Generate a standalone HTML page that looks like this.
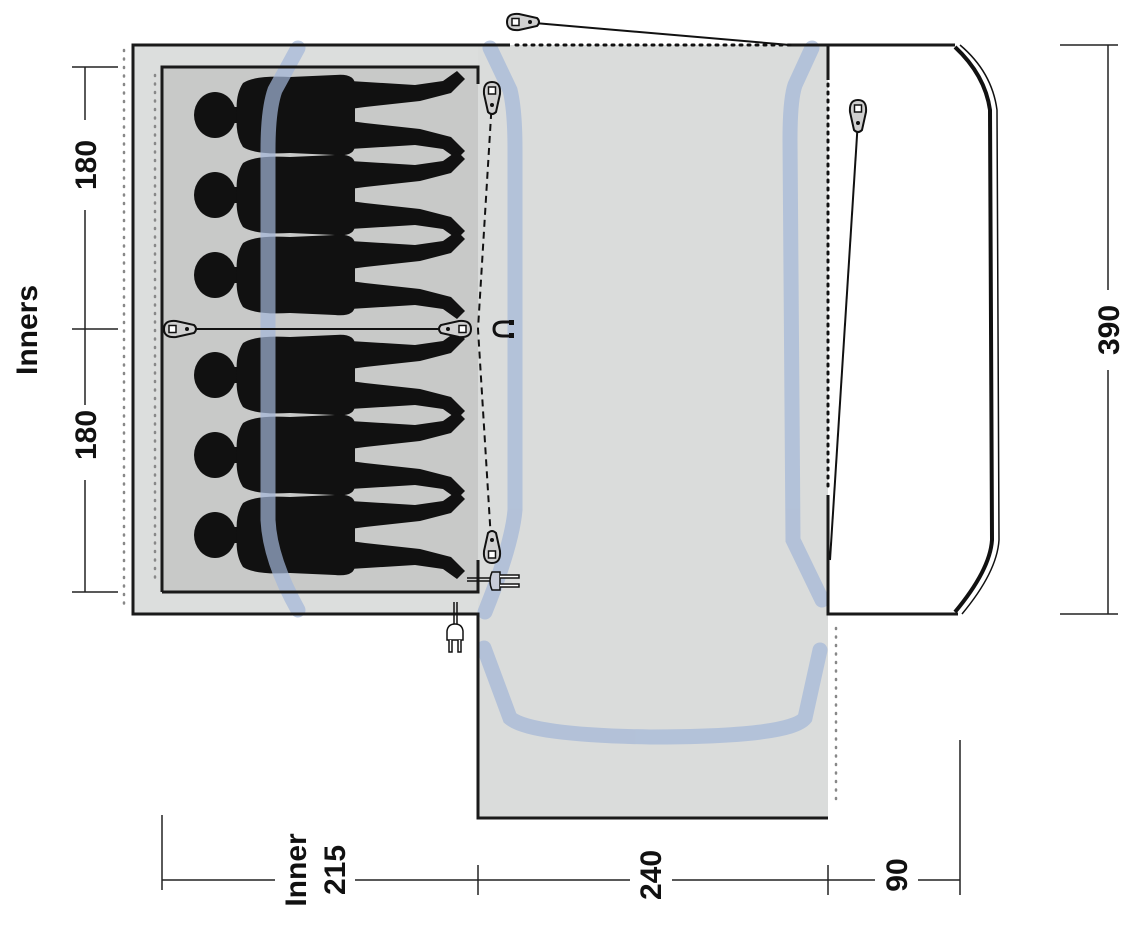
<!DOCTYPE html>
<html><head><meta charset="utf-8"><style>
html,body{margin:0;padding:0;background:#fff;}
svg{display:block;}
text{font-family:"Liberation Sans",sans-serif;font-weight:bold;fill:#111;}
</style></head><body>
<svg width="1132" height="931" viewBox="0 0 1132 931" xmlns="http://www.w3.org/2000/svg">
<defs>
<g id="p">
  <ellipse cx="0" cy="0" rx="21" ry="23"/>
  <rect x="15" y="-8" width="20" height="16"/>
  <path d="M28,-32 Q40,-40 75,-38 L120,-40 Q140,-42 140,-30 L140,30 Q140,42 120,40 L75,38 Q40,40 28,32 Q20,20 22,0 Q20,-20 28,-32Z"/>
  <path d="M135,-34 L200,-30 L228,-34 L242,-44 L250,-36 L236,-22 L205,-14 L150,-8 L135,-6Z"/>
  <path d="M135,6 L150,8 L205,14 L236,22 L250,36 L242,44 L228,34 L200,30 L135,34Z"/>
</g>
<g id="tab">
  <path d="M-8,-4 Q-9,-16 0,-16 Q9,-16 8,-4 L4,14 Q0,18 -4,14Z" fill="#d0d0d0" stroke="#111" stroke-width="2"/>
  <rect x="-3.5" y="-11" width="7" height="7" fill="#fff" stroke="#111" stroke-width="1.5"/>
  <circle cx="0" cy="7" r="2" fill="#111"/>
</g>
</defs>
<!-- areas -->
<rect x="133" y="45" width="345" height="569" fill="#dcdedd"/>
<rect x="478" y="45" width="350" height="773" fill="#dadcdb"/>
<rect x="162" y="67" width="316" height="525" fill="#c8c9c8"/>
<!-- people -->
<g fill="#111">
<use href="#p" transform="translate(215,115)"/>
<use href="#p" transform="translate(215,195)"/>
<use href="#p" transform="translate(215,275)"/>
<use href="#p" transform="translate(215,375)"/>
<use href="#p" transform="translate(215,455)"/>
<use href="#p" transform="translate(215,535)"/>
</g>
<!-- poles -->
<g fill="none" stroke="#a3b7d8" stroke-width="15" stroke-linecap="round" opacity="0.7">
<path d="M298,48 L275,90 Q268,110 268,150 L268,520 Q270,560 298,610"/>
<path d="M490,48 L510,90 Q515,110 515,150 L515,510 Q512,545 485,612"/>
<path d="M812,48 L795,85 Q790,100 790,140 L793,540 L822,600"/>
<path d="M484,648 L510,718 Q530,735 650,737 Q790,737 805,718 L820,650"/>
</g>
<!-- outlines -->
<g fill="none" stroke="#1a1a1a" stroke-width="3">
<path d="M510,45 L133,45 L133,614 L478,614 L478,818 L828,818"/>
<path d="M162,592 L162,67 L478,67 L478,84"/>
<path d="M162,592 L478,592 L478,560"/>
<path d="M790,45 L955,45 M828,45 L828,80 M828,495 L828,614 L958,614"/>
</g>
<g fill="none" stroke="#111" stroke-width="3" stroke-dasharray="2 6" stroke-linecap="round">
<path d="M516,45 L790,45"/>
<path d="M828,84 L828,490"/>
</g>
<g fill="none" stroke="#888" stroke-width="2.5" stroke-dasharray="1 7.5" stroke-linecap="round">
<path d="M124,50 L124,608"/>
<path d="M155,75 L155,585"/>
<path d="M836,628 L836,805"/>
</g>
<!-- curved end -->
<path d="M955,47 Q985,75 990,110 L992,540 Q990,570 955,612" fill="none" stroke="#111" stroke-width="4"/>
<path d="M960,45 Q992,72 997,110 L999,540 Q997,572 962,614" fill="none" stroke="#111" stroke-width="1.5"/>
<!-- guy lines -->
<g stroke="#111" stroke-width="2" fill="none">
<line x1="523" y1="22" x2="790" y2="45"/>
<line x1="858" y1="120" x2="830" y2="560"/>
<line x1="180" y1="329" x2="460" y2="329"/>
<path d="M492,100 L478,329 L491,540" stroke-dasharray="7 5"/>
</g>
<use href="#tab" transform="translate(523,22) rotate(-90)"/>
<use href="#tab" transform="translate(858,116)"/>
<use href="#tab" transform="translate(492,98)"/>
<use href="#tab" transform="translate(492,547) rotate(180)"/>
<use href="#tab" transform="translate(180,329) rotate(-90)"/>
<use href="#tab" transform="translate(455,329) rotate(90)"/>
<!-- magnet -->
<path d="M512,322 L503,322 Q494,322 494,329 Q494,336 503,336 L512,336" fill="none" stroke="#111" stroke-width="3"/>
<rect x="509" y="320" width="5" height="5" fill="#111"/><rect x="509" y="333" width="5" height="5" fill="#111"/>
<!-- plugs -->
<g stroke="#111" stroke-width="1.5" fill="#c8ccd8">
<line x1="467" y1="578" x2="492" y2="578"/><line x1="467" y1="581" x2="492" y2="581"/>
<path d="M492,572 L500,572 L500,590 L492,590 Q488,581 492,572Z"/>
<path d="M500,575 L519,575 L519,578 L500,578 M500,584 L519,584 L519,587 L500,587" fill="#fff"/>
<line x1="454" y1="602" x2="454" y2="624"/><line x1="457" y1="602" x2="457" y2="624"/>
<path d="M447,631 Q448,624 455,624 Q462,624 463,631 L463,640 L447,640Z" fill="#fff"/>
<path d="M449,640 L449,652 L452,652 L452,640 M458,640 L458,652 L461,652 L461,640" fill="#fff"/>
</g>
<!-- dimension lines -->
<g stroke="#222" stroke-width="1.5" fill="none">
<line x1="85" y1="67" x2="85" y2="120"/><line x1="85" y1="210" x2="85" y2="405"/><line x1="85" y1="480" x2="85" y2="592"/>
<line x1="72" y1="67" x2="118" y2="67"/><line x1="72" y1="329" x2="118" y2="329"/><line x1="72" y1="592" x2="118" y2="592"/>
<line x1="1108" y1="45" x2="1108" y2="290"/><line x1="1108" y1="370" x2="1108" y2="614"/>
<line x1="1060" y1="45" x2="1118" y2="45"/><line x1="1060" y1="614" x2="1118" y2="614"/>
<line x1="162" y1="880" x2="275" y2="880"/><line x1="355" y1="880" x2="630" y2="880"/><line x1="672" y1="880" x2="875" y2="880"/><line x1="918" y1="880" x2="960" y2="880"/>
<line x1="162" y1="815" x2="162" y2="890"/><line x1="478" y1="865" x2="478" y2="895"/><line x1="828" y1="865" x2="828" y2="895"/><line x1="960" y1="740" x2="960" y2="895"/>
</g>
<g font-size="30">
<text transform="translate(96,165) rotate(-90)" text-anchor="middle">180</text>
<text transform="translate(96,435) rotate(-90)" text-anchor="middle">180</text>
<text transform="translate(37,330) rotate(-90)" text-anchor="middle">Inners</text>
<text transform="translate(1119,330) rotate(-90)" text-anchor="middle">390</text>
<text transform="translate(306,870) rotate(-90)" text-anchor="middle">Inner</text>
<text transform="translate(345,870) rotate(-90)" text-anchor="middle">215</text>
<text transform="translate(661,875) rotate(-90)" text-anchor="middle">240</text>
<text transform="translate(907,875) rotate(-90)" text-anchor="middle">90</text>
</g>
</svg>
</body></html>
